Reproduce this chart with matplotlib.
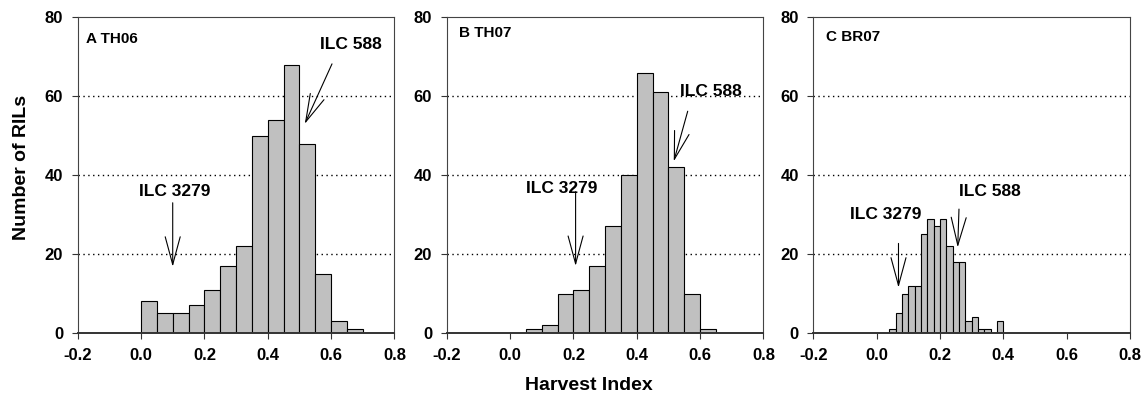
import numpy as np
import matplotlib
matplotlib.use("Agg")
import matplotlib.pyplot as plt

plt.rcParams['font.family'] = ['Liberation Sans', 'DejaVu Sans']
plt.rcParams['font.weight'] = 'bold'

# histogram bins (left edges) and counts of RILs per harvest index class
edges_A = [0.00, 0.05, 0.10, 0.15, 0.20, 0.25, 0.30, 0.35, 0.40, 0.45, 0.50, 0.55, 0.60, 0.65]
counts_A = [8, 5, 5, 7, 11, 17, 22, 50, 54, 68, 48, 15, 3, 1]

edges_B = [0.05, 0.10, 0.15, 0.20, 0.25, 0.30, 0.35, 0.40, 0.45, 0.50, 0.55, 0.60]
counts_B = [1, 2, 10, 11, 17, 27, 40, 66, 61, 42, 10, 1]

edges_C = [0.04, 0.06, 0.08, 0.10, 0.12, 0.14, 0.16, 0.18, 0.20, 0.22, 0.24, 0.26,
           0.28, 0.30, 0.32, 0.34, 0.36, 0.38]
counts_C = [1, 5, 10, 12, 12, 25, 29, 27, 29, 22, 18, 18, 3, 4, 1, 1, 0, 3]

panel_titles = ["A TH06", "B TH07", "C BR07"]
xticks = [-0.2, 0.0, 0.2, 0.4, 0.6, 0.8]
yticks = [0, 20, 40, 60, 80]

fig = plt.figure(figsize=(11.47, 4), dpi=100)
W, H = 1147.0, 400.0
lefts = [77.7, 446.7, 813.3]
axes = [fig.add_axes([l / W, 1 - 333 / H, 316.7 / W, 315.7 / H]) for l in lefts]

data = [(edges_A, counts_A, 0.05), (edges_B, counts_B, 0.05), (edges_C, counts_C, 0.02)]
title_pos = [(0.026, 0.930), (0.040, 0.951), (0.040, 0.937)]

for ax, (edges, counts, w), title, tp in zip(axes, data, panel_titles, title_pos):
    ax.bar(edges, counts, width=w, align='edge', color='#c0c0c0',
           edgecolor='black', linewidth=0.8, zorder=2)
    ax.set_xlim(-0.2, 0.8)
    ax.set_ylim(0, 80)
    ax.set_xticks(xticks)
    ax.set_xticklabels([f"{v:.1f}" for v in xticks])
    ax.set_yticks(yticks)
    ax.set_yticklabels([str(v) for v in yticks])
    ax.tick_params(axis='both', direction='out', length=4.5, width=0.8,
                   labelsize=12, pad=6, color='#333333')
    ax.tick_params(axis='y', pad=6)
    for v in [20, 40, 60]:
        ax.axhline(v, color='black', linewidth=1.0, linestyle=(0, (1, 2.5)), zorder=1)
    for s in ['top', 'right', 'left']:
        ax.spines[s].set_linewidth(0.8)
        ax.spines[s].set_color('#444444')
    ax.spines['bottom'].set_linewidth(1.4)
    ax.spines['bottom'].set_color('#333333')
    ax.text(tp[0], tp[1], title, transform=ax.transAxes, fontsize=11,
            fontweight='bold', va='center', ha='left')


def parent(ax, label, text_xy, tail, tip):
    ax.text(text_xy[0], text_xy[1], label, fontsize=12.5, fontweight='bold',
            ha='center', va='center', zorder=4)
    ax.annotate('', xy=tip, xytext=tail,
                arrowprops=dict(arrowstyle='->,head_length=1.0,head_width=0.27',
                                mutation_scale=20, color='black', lw=0.8,
                                shrinkA=0, shrinkB=0), zorder=4)


parent(axes[0], "ILC 3279", (0.105, 35.8), (0.10, 33.0), (0.10, 16.8))
parent(axes[0], "ILC 588", (0.661, 73.0), (0.603, 68.2), (0.517, 53.0))

parent(axes[1], "ILC 3279", (0.163, 36.7), (0.207, 35.8), (0.207, 17.0))
parent(axes[1], "ILC 588", (0.635, 61.1), (0.561, 56.2), (0.517, 43.5))

parent(axes[2], "ILC 3279", (0.029, 30.0), (0.069, 22.7), (0.069, 11.5))
parent(axes[2], "ILC 588", (0.358, 35.9), (0.260, 31.4), (0.256, 21.7))

fig.text(21.7 / W, 1 - 167.5 / H, "Number of RILs", rotation=90, fontsize=14,
         fontweight='bold', ha='center', va='center')
fig.text(589 / W, 1 - 386 / H, "Harvest Index", fontsize=14,
         fontweight='bold', ha='center', va='center')

fig.savefig("out.png", dpi=100)
